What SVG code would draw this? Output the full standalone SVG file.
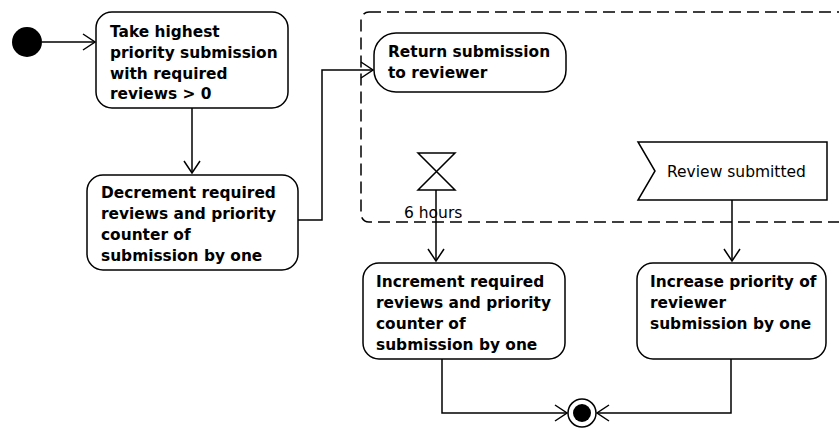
<svg xmlns="http://www.w3.org/2000/svg" width="839" height="430" viewBox="0 0 839 430">
<style>
.box{fill:#fff;stroke:#000;stroke-width:1.5}
.t{font-family:"DejaVu Sans",Verdana,sans-serif;font-size:15.4px;font-weight:bold;fill:#000}
.n{font-family:"DejaVu Sans",Verdana,sans-serif;font-size:15.5px;fill:#000}
.c{fill:none;stroke:#000;stroke-width:1.5}
</style>
<defs>
<marker id="a" markerWidth="14" markerHeight="18" refX="13" refY="9" orient="auto" markerUnits="userSpaceOnUse">
<path d="M1,1 L13,9 L1,17" fill="none" stroke="#000" stroke-width="1.5"/>
</marker>
</defs>
<rect x="361" y="12" width="520" height="210" rx="8" fill="none" stroke="#000" stroke-width="1.5" stroke-dasharray="12,6"/>
<g id="connectors">
<path class="c" d="M42,42 H95" marker-end="url(#a)"/>
<path class="c" d="M192,108 V173" marker-end="url(#a)"/>
<path class="c" d="M298,220 H322 V70 H373" marker-end="url(#a)"/>
<path class="c" d="M436,190 V261" marker-end="url(#a)"/>
<path class="c" d="M732,200 V261" marker-end="url(#a)"/>
<path class="c" d="M442,359 V413 H567" marker-end="url(#a)"/>
<path class="c" d="M731,359 V413 H597" marker-end="url(#a)"/>
</g>
<g id="start"><circle cx="27" cy="42" r="15" fill="#000"/></g>
<g id="take">
<rect class="box" x="96" y="12" width="192" height="96" rx="16"/>
<text class="t"><tspan x="110" y="37">Take highest</tspan><tspan x="110" y="58">priority submission</tspan><tspan x="110" y="79">with required</tspan><tspan x="110" y="99">reviews &gt; 0</tspan></text>
</g>
<g id="decrement">
<rect class="box" x="87" y="175" width="211" height="95" rx="16"/>
<text class="t"><tspan x="101" y="198">Decrement required</tspan><tspan x="101" y="219">reviews and priority</tspan><tspan x="101" y="240">counter of</tspan><tspan x="101" y="261">submission by one</tspan></text>
</g>
<g id="return">
<rect class="box" x="374" y="33" width="192" height="59" rx="22"/>
<text class="t"><tspan x="388" y="57">Return submission</tspan><tspan x="388" y="78">to reviewer</tspan></text>
</g>
<g id="timer">
<path class="box" d="M418,153 H455 L418,190 H455 Z"/>
<text class="n" x="404" y="218">6 hours</text>
</g>
<g id="signal">
<path class="box" d="M638,142 H827 V200 H638 L655,171 Z"/>
<text class="n" x="667" y="177">Review submitted</text>
</g>
<g id="increment">
<rect class="box" x="363" y="263" width="202" height="96" rx="16"/>
<text class="t"><tspan x="376" y="287">Increment required</tspan><tspan x="376" y="308">reviews and priority</tspan><tspan x="376" y="329">counter of</tspan><tspan x="376" y="350">submission by one</tspan></text>
</g>
<g id="increase">
<rect class="box" x="637" y="263" width="189" height="96" rx="16"/>
<text class="t"><tspan x="650" y="287">Increase priority of</tspan><tspan x="650" y="308">reviewer</tspan><tspan x="650" y="329">submission by one</tspan></text>
</g>
<g id="end">
<circle cx="582" cy="413" r="14" fill="#fff" stroke="#000" stroke-width="1.5"/>
<circle cx="582" cy="413" r="9" fill="#000"/>
</g>
</svg>
